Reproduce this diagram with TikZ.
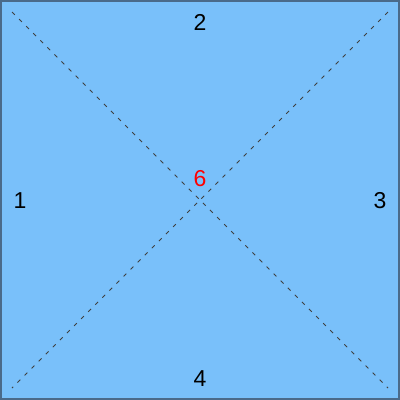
\documentclass[tikz,border=0pt]{standalone}
\usepackage{fontspec}
\setmainfont{Liberation Sans}
\definecolor{fillblue}{RGB}{121,192,250}
\definecolor{edge}{RGB}{74,106,138}
\begin{document}
\begin{tikzpicture}[x=1pt,y=-1pt,
  lbl/.style={font=\fontsize{23}{27}\selectfont, inner sep=0pt},
  diag/.style={dash pattern=on 4pt off 6pt, line width=0.8pt, draw=black!75}]
\useasboundingbox (0,0) rectangle (400,400);
\draw[fill=fillblue, draw=edge, line width=2pt] (1,1) rectangle (399,399);
\coordinate (tl) at (12,12);
\coordinate (tr) at (388,12);
\coordinate (bl) at (12,388);
\coordinate (br) at (388,388);
\draw[diag] (tl) -- (br);
\draw[diag] (tr) -- (bl);
\node[lbl] (n1) at (20,201) {1};
\node[lbl] (n2) at (200,22) {2};
\node[lbl] (n3) at (380,201) {3};
\node[lbl] (n4) at (200,379) {4};
\node[lbl, text=red] (n6) at (200,179) {6};
\end{tikzpicture}
\end{document}
